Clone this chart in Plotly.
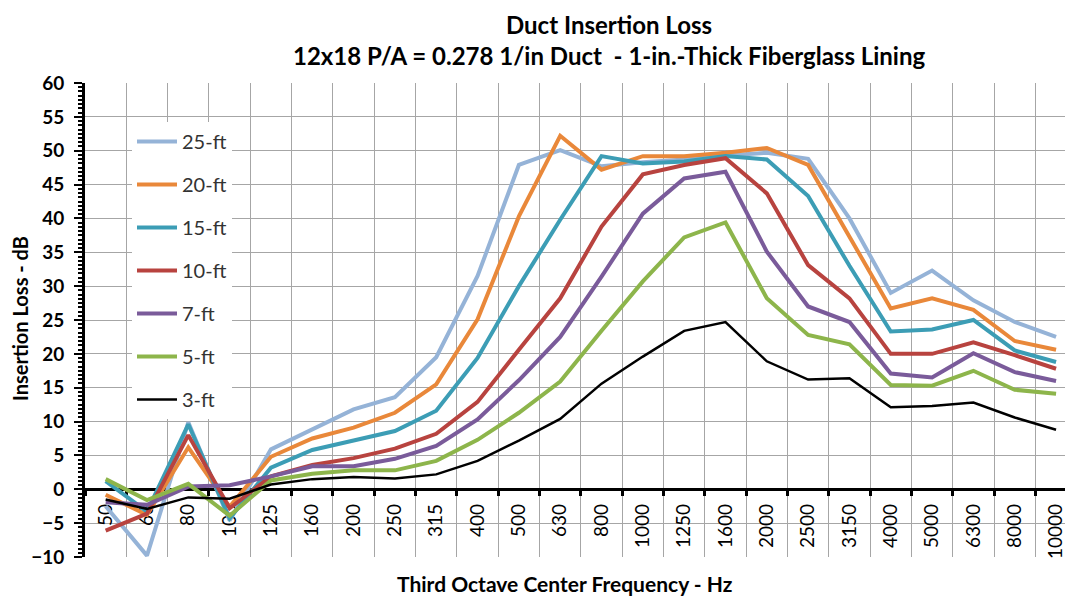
import plotly.graph_objects as go

cats = ["50", "63", "80", "100", "125", "160", "200", "250", "315", "400", "500", "630",
        "800", "1000", "1250", "1600", "2000", "2500", "3150", "4000", "5000", "6300", "8000", "10000"]

ft25 = [-2.5, -9.8, 9.9, -4.6, 5.9, 8.8, 11.8, 13.6, 19.5, 31.5, 47.9, 50.1, 47.7, 48.3, 48.7, 49.3, 49.7, 48.8, 40.0, 29.0, 32.3, 27.9, 24.7, 22.5]
ft20 = [-0.8, -3.8, 6.2, -2.6, 4.8, 7.5, 9.1, 11.3, 15.5, 25.1, 40.3, 52.2, 47.2, 49.2, 49.2, 49.7, 50.4, 47.9, 37.3, 26.7, 28.2, 26.5, 21.9, 20.6]
ft15 = [1.2, -3.3, 9.6, -4.3, 3.2, 5.8, 7.2, 8.6, 11.6, 19.4, 30.0, 39.8, 49.2, 48.1, 48.4, 49.2, 48.7, 43.3, 33.0, 23.3, 23.6, 25.0, 20.5, 18.8]
ft10 = [-6.1, -3.6, 8.0, -2.8, 1.9, 3.6, 4.6, 6.0, 8.2, 12.9, 20.6, 28.2, 38.8, 46.5, 47.9, 48.9, 43.7, 33.1, 28.2, 20.0, 20.0, 21.7, 19.8, 17.8]
ft7 = [-1.9, -2.3, 0.4, 0.6, 1.9, 3.4, 3.4, 4.5, 6.4, 10.3, 16.1, 22.5, 31.4, 40.7, 45.9, 46.9, 35.1, 27.0, 24.7, 17.1, 16.5, 20.1, 17.3, 16.0]
ft5 = [1.5, -1.6, 0.8, -3.9, 1.3, 2.3, 2.8, 2.8, 4.2, 7.3, 11.3, 15.9, 23.4, 30.7, 37.2, 39.4, 28.2, 22.8, 21.4, 15.4, 15.3, 17.5, 14.7, 14.1]
ft3 = [-1.5, -2.9, -1.2, -1.4, 0.7, 1.5, 1.8, 1.6, 2.2, 4.2, 7.2, 10.4, 15.6, 19.6, 23.4, 24.7, 18.9, 16.2, 16.4, 12.1, 12.3, 12.8, 10.6, 8.8]

series_names = ["25-ft", "20-ft", "15-ft", "10-ft", "7-ft", "5-ft", "3-ft"]
series_values = [ft25, ft20, ft15, ft10, ft7, ft5, ft3]
series_colors = ["#95B3D7", "#E9883A", "#3C9DB5", "#B8433F", "#7A5B9A", "#8DB54B", "#000000"]
series_widths = [4, 4, 4, 4, 4, 4, 2.5]

FONT = "Lato"
x_idx = list(range(len(cats)))
XR = [-0.5, 23.41]
YR = [-10, 60]
zero_pos = (0 - YR[0]) / (YR[1] - YR[0])

# the page body adds an 8px offset; lay out in screen coordinates and shift
OFF = 8
W, H = 1073 - OFF, 602 - OFF
L = 85 - OFF
T = 83 - OFF
B = H - (557 - OFF)
pw, ph = W - L, H - T - B


def px(xs):
    return (xs - OFF - L) / pw


def py(ys):
    return (H - B - (ys - OFF)) / ph


fig = go.Figure()
for name, vals, col, w in zip(series_names, series_values, series_colors, series_widths):
    fig.add_trace(go.Scatter(x=x_idx, y=vals, mode="lines", name=name, legendgroup=name,
                             line=dict(color=col, width=w)))

fig.update_layout(
    width=W, height=H,
    margin=dict(l=L, r=0, t=T, b=B, autoexpand=False),
    paper_bgcolor="white", plot_bgcolor="white",
    showlegend=True,
    legend=dict(x=px(132), y=py(122), xanchor="left", yanchor="top", bgcolor="white",
                font=dict(family=FONT, size=20, color="#333333"),
                tracegroupgap=14, itemwidth=40),
    xaxis=dict(range=XR, anchor="free", position=zero_pos, tickmode="array",
               tickvals=x_idx, ticktext=cats, tickangle=-90, ticks="", showgrid=False,
               showline=True, linecolor="black", linewidth=3, zeroline=False,
               ticklabelstandoff=5, automargin=False,
               tickfont=dict(family=FONT, size=19, color="black"),
               minor=dict(tickmode="linear", tick0=0.5, dtick=1, ticks="outside", ticklen=5,
                          tickwidth=3, tickcolor="black", showgrid=True,
                          gridcolor="#A6A6A6", gridwidth=1),
               layer="below traces"),
    xaxis2=dict(range=XR, overlaying="x", anchor="free", position=zero_pos,
                showticklabels=False, showgrid=False, showline=False, zeroline=False, ticks="",
                minor=dict(tickmode="linear", tick0=0.5, dtick=1, ticks="inside", ticklen=5,
                           tickwidth=3, tickcolor="black", showgrid=False)),
    xaxis3=dict(range=XR, overlaying="x", anchor="y", side="bottom", showline=True, mirror=True,
                linecolor="black", linewidth=3, showticklabels=False, ticks="", showgrid=False,
                zeroline=False),
    yaxis=dict(range=YR, tick0=0, dtick=5, showgrid=True, gridcolor="#A6A6A6", gridwidth=1,
               showline=True, linecolor="black", linewidth=3, zeroline=False,
               ticks="outside", ticklen=8, tickwidth=2, tickcolor="black",
               ticklabelstandoff=6, automargin=False,
               tickfont=dict(family=FONT, size=19, color="black", weight="bold"),
               minor=dict(tick0=0, dtick=0.625, ticks="outside", ticklen=4, tickwidth=2,
                          tickcolor="black", showgrid=False)),
    yaxis2=dict(range=YR, overlaying="y", anchor="x3", side="left", showticklabels=False,
                showgrid=False, showline=False, zeroline=False, tick0=0, dtick=5,
                ticks="inside", ticklen=4, tickwidth=2, tickcolor="black",
                minor=dict(tick0=0, dtick=0.625, ticks="inside", ticklen=4, tickwidth=2,
                           tickcolor="black", showgrid=False)),
)

title_font = dict(family=FONT, size=24, color="black", weight="bold")
fig.add_annotation(text="Duct Insertion Loss", x=px(609), y=py(8.5), xref="paper", yref="paper",
                   showarrow=False, xanchor="center", yanchor="top", font=title_font)
fig.add_annotation(text="12x18 P/A = 0.278 1/in Duct \u00a0- 1-in.-Thick Fiberglass Lining",
                   x=px(609), y=py(38.5), xref="paper", yref="paper",
                   showarrow=False, xanchor="center", yanchor="top", font=title_font)
axis_font = dict(family=FONT, size=20, color="black", weight="bold")
fig.add_annotation(text="Third Octave Center Frequency - Hz", x=px(565), y=py(583),
                   xref="paper", yref="paper", showarrow=False, xanchor="center",
                   yanchor="middle", font=dict(family=FONT, size=21, color="black", weight="bold"))
fig.add_annotation(text="Insertion Loss - dB", x=px(20), y=py(319), xref="paper", yref="paper",
                   showarrow=False, xanchor="center", yanchor="middle", textangle=-90,
                   font=axis_font)

fig.write_html("out.html")
